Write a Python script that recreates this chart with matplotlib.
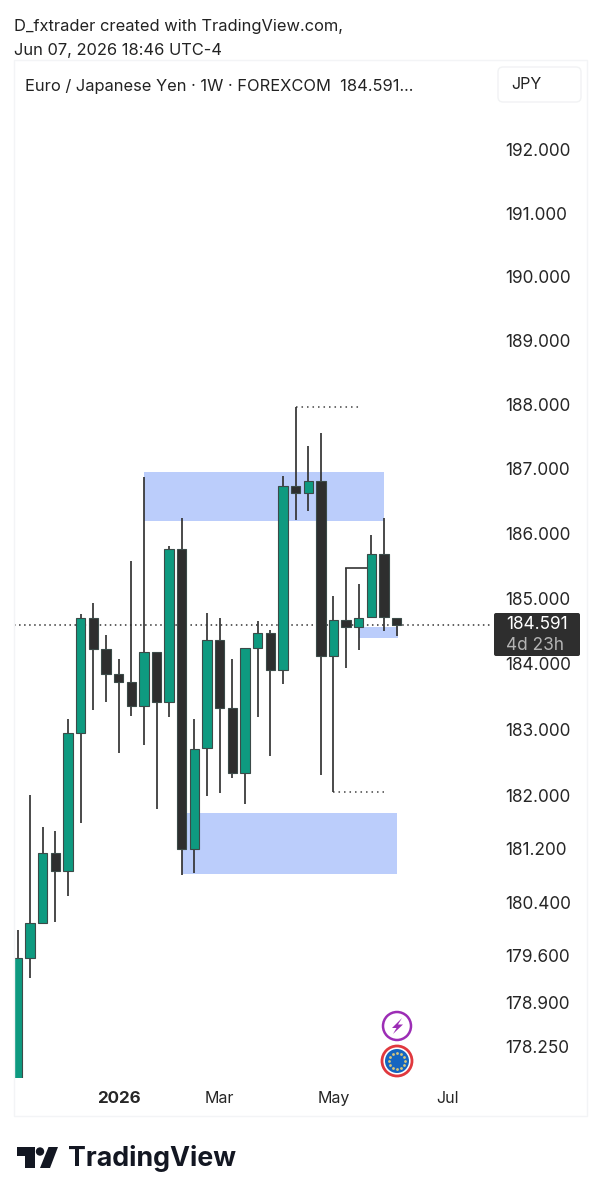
# region Load libraries
import numpy as np
import matplotlib
matplotlib.use("Agg")
import matplotlib.pyplot as plt
from matplotlib.patches import Circle, FancyBboxPatch, Polygon, Rectangle
from matplotlib.ticker import NullLocator
# endregion

plt.rcParams['font.family'] = ['Inter', 'DejaVu Sans']

# region Weekly EUR/JPY candles
opens = [177.615, 179.569, 180.09, 181.138, 180.868, 182.947, 184.698, 184.224, 183.843, 183.721,
         183.356, 184.178, 183.417, 185.758, 181.2, 182.719, 184.361, 183.326, 182.342, 184.239,
         184.468, 183.904, 186.729, 186.62, 186.806, 184.117, 184.667, 184.56, 184.714, 185.683,
         184.698]
closes = [179.569, 180.09, 181.138, 180.868, 182.947, 184.698, 184.224, 183.843, 183.721, 183.356,
          184.178, 183.417, 185.758, 181.2, 182.704, 184.361, 183.326, 182.342, 184.239, 184.468,
          183.904, 186.729, 186.62, 186.806, 184.117, 184.667, 184.56, 184.698, 185.683, 184.714,
          184.591]
highs = [179.985, 182.01, 181.529, 181.468, 183.159, 184.759, 184.928, 184.437, 184.072, 185.573,
         186.868, 184.178, 185.804, 186.236, 183.159, 184.773, 184.698, 184.072, 184.239, 184.652,
         184.514, 186.884, 187.955, 187.347, 187.549, 185.035, 185.461, 185.219, 185.974, 186.236,
         184.698]
lows = [177.47, 179.271, 180.09, 180.106, 180.494, 181.589, 183.296, 183.417, 182.644, 183.205,
        182.765, 181.799, 183.189, 180.808, 180.838, 181.995, 182.041, 182.267, 181.874, 183.189,
        182.599, 183.69, 186.205, 186.345, 182.312, 182.056, 183.935, 184.208, 184.714, 184.5,
        184.423]
last_price = closes[-1]

y_ticks = [192, 191, 190, 189, 188, 187, 186, 185, 184, 183, 182, 181.2, 180.4, 179.6, 178.9, 178.25]
x_ticks = [8, 16, 25, 34]
x_labels = ['2026', 'Mar', 'May', 'Jul']

# supply / demand zones: first bar, last bar, lower price, upper price
zone_start = [10, 13, 27]
zone_end = [29, 30, 30.1]
zone_low = [186.19, 180.823, 184.39]
zone_high = [186.945, 181.738, 184.56]

# dotted levels and the small step line
level_price = [187.955, 182.056]
level_start = [22, 25]
level_end = [27, 29]
step_price = 185.461
step_start = 26
step_end = 28
# endregion

# region Figure and price pane
fig = plt.figure(figsize=(6.01, 12), dpi=100, facecolor='white')
ax = fig.add_axes([14 / 601, 122 / 1200, 573 / 601, 1018 / 1200])
ax.set_yscale('log')
ax.set_xlim(-0.277, 45.06)
ax.set_ylim(177.79, 193.437)
for spine in ax.spines.values():
    spine.set_visible(False)

ax.set_yticks(y_ticks)
ax.set_yticklabels([f'{t:.3f}' for t in y_ticks])
ax.yaxis.set_minor_locator(NullLocator())
ax.yaxis.tick_right()
ax.tick_params(axis='y', length=0, pad=-59, labelsize=12.4, labelcolor='#262626')
ax.set_xticks(x_ticks)
ax.set_xticklabels(x_labels)
ax.tick_params(axis='x', length=0, pad=9.5, labelsize=11.5, labelcolor='#262626')
ax.get_xticklabels()[0].set_fontweight('bold')
ax.get_xticklabels()[0].set_fontsize(12.2)
# endregion

# region Zones, levels and candles
for start, end, low, high in zip(zone_start, zone_end, zone_low, zone_high):
    ax.add_patch(Rectangle((start, low), end - start, high - low, facecolor='#BBCDFB',
                           edgecolor='none', zorder=1))

ax.plot([-0.277, 37.5], [last_price, last_price], color='#333333', lw=1.1,
        dashes=(1, 2.3), zorder=2)
for price, start, end in zip(level_price, level_start, level_end):
    ax.plot([start, end], [price, price], color='#444444', lw=1.1, dashes=(1, 2.6), zorder=2)
ax.plot([step_start, step_end], [step_price, step_price], color='#444444', lw=1.3, zorder=2)

idx = np.arange(len(opens))
o = np.array(opens)
c = np.array(closes)
colors = ['#0E9A80' if cl > op else '#2E2E2E' for op, cl in zip(o, c)]
ax.vlines(idx, lows, highs, color='#333333', lw=1.25, zorder=3)
ax.bar(idx, np.abs(c - o), bottom=np.minimum(o, c), width=0.74, color=colors,
       edgecolor='#3b4a48', linewidth=0.8, zorder=4)
# endregion

# region Page furniture drawn in pixel coordinates
page = fig.add_axes([0, 0, 1, 1], facecolor='none')
page.set_xlim(0, 601)
page.set_ylim(1200, 0)
page.axis('off')

page.add_patch(Rectangle((14, 60), 573, 1056, facecolor='none', edgecolor='#F3F4F6', lw=1))
page.text(14, 26, 'D_fxtrader created with TradingView.com,', fontsize=11.85, color='#222222', va='center')
page.text(14, 51, 'Jun 07, 2026 18:46 UTC-4', fontsize=11.85, color='#222222', va='center')
page.text(25, 86, 'Euro / Japanese Yen · 1W · FOREXCOM  184.591...', fontsize=11.85, color='#222222',
          va='center')

page.add_patch(FancyBboxPatch((498, 67), 83, 35, boxstyle='round,pad=0,rounding_size=5',
                              facecolor='white', edgecolor='#F1F2F4', lw=1))
page.text(511, 84.5, 'JPY', fontsize=11.6, color='#222222', va='center')

# last price badge
page.add_patch(FancyBboxPatch((494, 613), 86, 43, boxstyle='round,pad=0,rounding_size=2',
                              facecolor='#2E2E2E', edgecolor='none'))
page.text(506, 624.5, f'{last_price:.3f}', fontsize=12.4, color='white', va='center')
page.text(506, 645, '4d 23h', fontsize=12.4, color='#B4B4B4', va='center')

# event markers
page.add_patch(Circle((397, 1026), 14, facecolor='white', edgecolor='#9C2DB5', lw=1.8))
page.add_patch(Polygon([(402, 1018), (392, 1028), (396.5, 1028), (393, 1034), (403, 1024.5), (398, 1024.5)],
                       facecolor='#9C2DB5', edgecolor='none'))
page.add_patch(Circle((397, 1061), 15, facecolor='white', edgecolor='#E0383E', lw=2))
page.add_patch(Circle((397, 1061), 12, facecolor='#1565C0', edgecolor='none'))
for angle in np.arange(0, 360, 30):
    page.plot(397 + 8 * np.cos(np.radians(angle)), 1061 + 8 * np.sin(np.radians(angle)), 'o',
              ms=2, color='#D9C77A', mew=0)

# TradingView logo
page.add_patch(Polygon([(17, 1147), (35, 1147), (35, 1168), (25, 1168), (25, 1156), (17, 1156)],
                       facecolor='#131722', edgecolor='none'))
page.add_patch(Circle((40, 1151.5), 4.2, facecolor='#131722', edgecolor='none'))
page.add_patch(Polygon([(48.5, 1147), (58, 1147), (50, 1168), (40, 1168)],
                       facecolor='#131722', edgecolor='none'))
page.text(68, 1158, 'TradingView', fontsize=19.3, fontweight='bold', color='#131722', va='center')
# endregion

fig.savefig('out.png', dpi=100)
